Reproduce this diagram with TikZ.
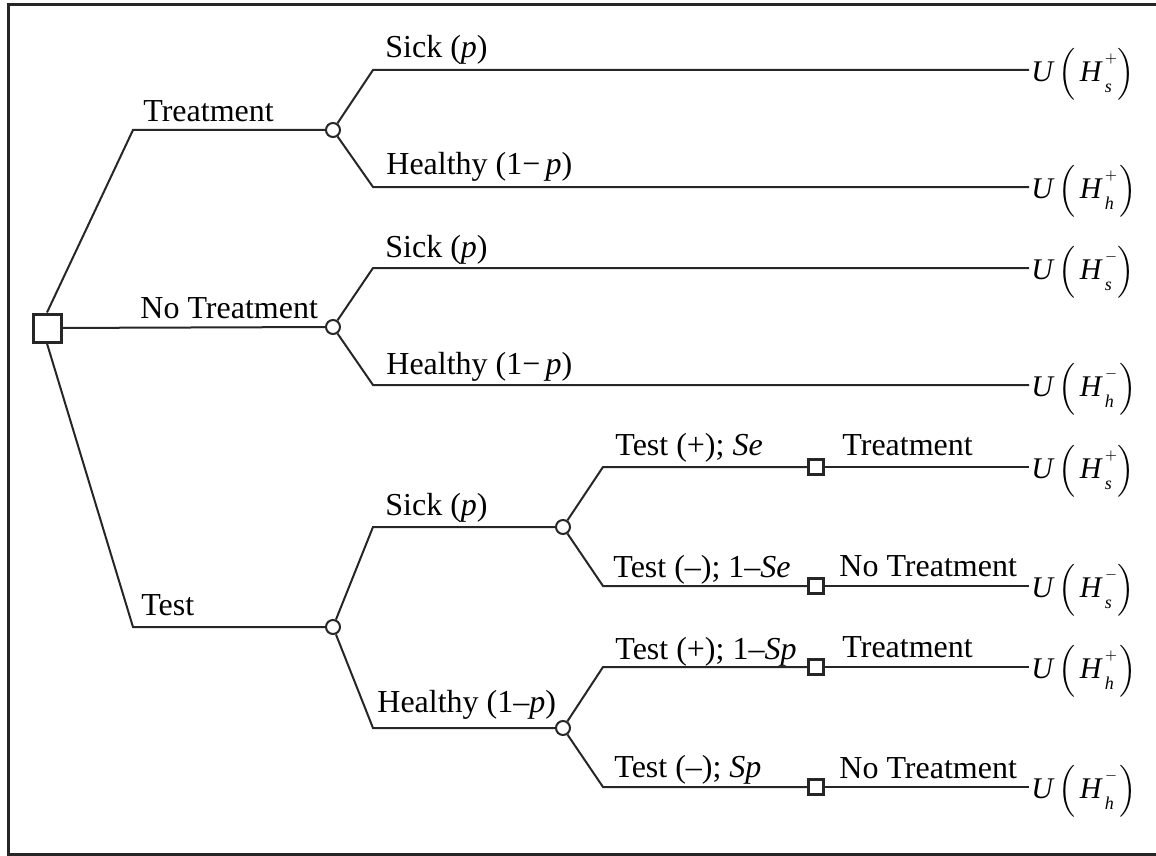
\documentclass[tikz,border=0pt]{standalone}
\usepackage{fontspec}
\usepackage{amsmath}
\setmainfont{Liberation Serif}
% utility of a health state: U(H^{sign}_{state})
\newcommand{\utl}[2]{\textit{U}\kern2pt$\Big($\kern2pt\textit{H}\kern1pt\makebox[0pt][l]{\raisebox{0.62em}{\fontsize{7}{8}\selectfont$#1$}}\raisebox{-0.38em}{\fontsize{9}{10}\selectfont\itshape #2}\kern3pt$\Big)$}
\begin{document}
\begin{tikzpicture}[x=0.5pt,y=-0.5pt,
  edge/.style={draw=black!85, line width=1pt},
  chance/.style={circle, draw=black!85, line width=1pt, fill=white, minimum size=7pt, inner sep=0pt},
  decision/.style={rectangle, draw=black!85, line width=1.5pt, fill=white, minimum size=14pt, inner sep=0pt},
  subdecision/.style={rectangle, draw=black!85, line width=1.2pt, fill=white, minimum size=7.5pt, inner sep=0pt},
  lbl/.style={anchor=base west, inner sep=0pt, font=\fontsize{16}{19}\selectfont},
  util/.style={anchor=west, inner sep=1pt, font=\fontsize{15}{18}\selectfont},
]
\useasboundingbox (0,0) rectangle (1156,856);
\begin{scope}
  \clip (0,0) rectangle (1156,856);
  \draw[line width=1.5pt, black!85] (8,4.5) rectangle (1165,854.5);
\end{scope}

% decision and chance nodes
\node[decision] (root) at (47,328) {};
\node[chance] (c1) at (333,130) {};
\node[chance] (c2) at (333,327) {};
\node[chance] (c3) at (333,627) {};
\node[chance] (cs) at (563,527) {};
\node[chance] (ch) at (563,728) {};
\node[subdecision] (q1) at (816,467) {};
\node[subdecision] (q2) at (816,586) {};
\node[subdecision] (q3) at (816,667) {};
\node[subdecision] (q4) at (816,787) {};

% bends of the branches
\coordinate (k1) at (133,130);
\coordinate (k3) at (133,627);
\coordinate (a1) at (373,70);
\coordinate (a2) at (373,187);
\coordinate (b1) at (373,268);
\coordinate (b2) at (373,385);
\coordinate (t1) at (373,527);
\coordinate (t2) at (373,728);
\coordinate (s1) at (603,467);
\coordinate (s2) at (603,586);
\coordinate (h1) at (603,667);
\coordinate (h2) at (603,787);

% outcomes
\node[util] (u1) at (1029,74) {\utl{+}{s}};
\node[util] (u2) at (1029,191) {\utl{+}{h}};
\node[util] (u3) at (1029,272) {\utl{-}{s}};
\node[util] (u4) at (1029,389) {\utl{-}{h}};
\node[util] (u5) at (1029,471) {\utl{+}{s}};
\node[util] (u6) at (1029,590) {\utl{-}{s}};
\node[util] (u7) at (1029,671) {\utl{+}{h}};
\node[util] (u8) at (1029,791) {\utl{-}{h}};

% branches
\draw[edge] (root.north) -- (k1) -- (c1);
\draw[edge] (root) -- (c2);
\draw[edge] (root.south) -- (k3) -- (c3);
\draw[edge] (c1) -- (a1) -- (a1 -| u1.west);
\draw[edge] (c1) -- (a2) -- (a2 -| u2.west);
\draw[edge] (c2) -- (b1) -- (b1 -| u3.west);
\draw[edge] (c2) -- (b2) -- (b2 -| u4.west);
\draw[edge] (c3) -- (t1) -- (cs);
\draw[edge] (c3) -- (t2) -- (ch);
\draw[edge] (cs) -- (s1) -- (q1);
\draw[edge] (cs) -- (s2) -- (q2);
\draw[edge] (ch) -- (h1) -- (q3);
\draw[edge] (ch) -- (h2) -- (q4);
\draw[edge] (q1) -- (q1 -| u5.west);
\draw[edge] (q2) -- (q2 -| u6.west);
\draw[edge] (q3) -- (q3 -| u7.west);
\draw[edge] (q4) -- (q4 -| u8.west);

% branch labels
\node[lbl] (l1) at (143,121) {Treatment};
\node[lbl] (l2) at (140,318) {No Treatment};
\node[lbl] (l3) at (141,615) {Test};
\node[lbl] (l4) at (385,58) {Sick (\textit{p})};
\node[lbl] (l5) at (386,175) {Healthy (1−\,\textit{p})};
\node[lbl] (l6) at (385,257) {Sick (\textit{p})};
\node[lbl] (l7) at (386,374) {Healthy (1−\,\textit{p})};
\node[lbl] (l8) at (385,515) {Sick (\textit{p})};
\node[lbl] (l9) at (377,712) {Healthy (1–\textit{p})};
\node[lbl] (l10) at (615,455) {Test (+); \textit{Se}};
\node[lbl] (l11) at (613,577) {Test (–); 1–\textit{Se}};
\node[lbl] (l12) at (615,659) {Test (+); 1–\textit{Sp}};
\node[lbl] (l13) at (614,777) {Test (–); \textit{Sp}};
\node[lbl] (l14) at (842,455) {Treatment};
\node[lbl] (l15) at (839,576) {No Treatment};
\node[lbl] (l16) at (842,657) {Treatment};
\node[lbl] (l17) at (839,778) {No Treatment};
\end{tikzpicture}
\end{document}
